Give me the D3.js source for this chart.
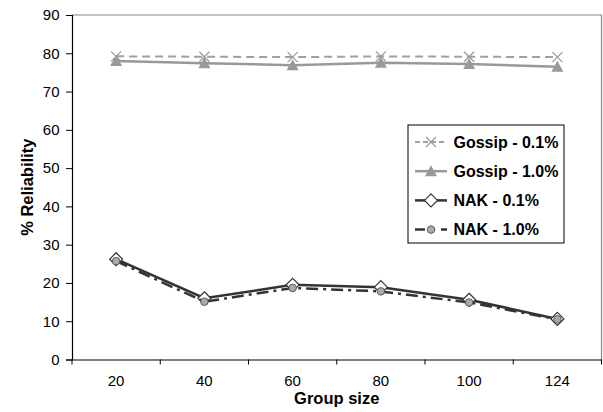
<!DOCTYPE html>
<html><head><meta charset="utf-8">
<script src="https://cdn.jsdelivr.net/npm/d3@7"></script>
<style>body{margin:0;background:#fff}svg{display:block}</style>
</head><body>
<script>
const categories = ["20","40","60","80","100","124"];
const gossip01 = [79.2, 79.1, 79.0, 79.2, 79.1, 79.0];
const gossip10 = [78.0, 77.4, 76.9, 77.5, 77.2, 76.5];
const nak01 = [26.2, 16.0, 19.5, 18.9, 15.6, 10.6];
const nak10 = [25.7, 15.1, 18.7, 17.8, 14.9, 10.5];
const yTicks = [0,10,20,30,40,50,60,70,80,90];
const seriesNames = ["Gossip - 0.1%","Gossip - 1.0%","NAK - 0.1%","NAK - 1.0%"];

const W=603,H=412;
const L=72,R=601.5,T=15,B=359.5;
const FONT="'Liberation Sans',Arial,sans-serif";
const svg=d3.select("body").append("svg").attr("width",W).attr("height",H)
  .style("font-family",FONT);
const x=d3.scaleBand().domain(categories).range([L,R]);
const y=d3.scaleLinear().domain([0,90]).range([B,T]);
const cx=c=>x(c)+x.bandwidth()/2;

// top and right border
svg.append("path").attr("d",`M${L},${T}H${R}V${B}`).attr("fill","none").attr("stroke","#888").attr("stroke-width",1.2);

// y axis
const ya=svg.append("g").attr("transform",`translate(${L},0)`)
  .call(d3.axisLeft(y).tickValues(yTicks).tickSize(6).tickPadding(6.5));
ya.select(".domain").attr("stroke","#000").attr("stroke-width",1.2);
ya.selectAll(".tick line").attr("stroke","#000");
ya.selectAll("text").attr("font-size",15).attr("fill","#000").attr("font-family",FONT);

// x axis
const xa=svg.append("g").attr("transform",`translate(0,${B})`)
  .call(d3.axisBottom(x).tickSize(0).tickPadding(16));
xa.select(".domain").attr("stroke","#000").attr("stroke-width",1.2);
xa.selectAll("text").attr("font-size",15).attr("fill","#000").attr("font-family",FONT);
const bounds=categories.map(c=>x(c)).concat([R]);
svg.append("g").selectAll("line").data(bounds).join("line")
  .attr("x1",d=>d).attr("x2",d=>d).attr("y1",B).attr("y2",B+5).attr("stroke","#000");

// titles
svg.append("text").attr("x",(L+R)/2).attr("y",404).attr("text-anchor","middle")
  .attr("font-weight","bold").attr("font-size",16.5).text("Group size");
svg.append("text").attr("transform",`translate(32.5,${(T+B)/2}) rotate(-90)`).attr("text-anchor","middle")
  .attr("font-weight","bold").attr("font-size",16.5).text("% Reliability");

const line=d3.line().x((d,i)=>cx(categories[i])).y(d=>y(d));
const styles=[
  {data:gossip01,stroke:"#a0a0a0",w:2,dash:"8,5",marker:"x"},
  {data:gossip10,stroke:"#999",w:2.5,dash:null,marker:"tri"},
  {data:nak01,stroke:"#333",w:2.5,dash:null,marker:"dia"},
  {data:nak10,stroke:"#333",w:2.5,dash:"12,5,3,5",marker:"circ"}
];
function drawMarker(g,type,px,py){
  if(type==="x"){
    g.append("path").attr("d",`M${px-5},${py-5}L${px+5},${py+5}M${px-5},${py+5}L${px+5},${py-5}`)
      .attr("stroke","#999").attr("stroke-width",1.2).attr("fill","none");
  } else if(type==="tri"){
    g.append("path").attr("d",`M${px},${py-6}L${px+6},${py+5}L${px-6},${py+5}Z`).attr("fill","#999");
  } else if(type==="dia"){
    g.append("path").attr("d",`M${px},${py-6.5}L${px+6.5},${py}L${px},${py+6.5}L${px-6.5},${py}Z`)
      .attr("fill","#fff").attr("stroke","#333").attr("stroke-width",1.2);
  } else {
    g.append("circle").attr("cx",px).attr("cy",py).attr("r",3.8).attr("fill","#aaa").attr("stroke","#444").attr("stroke-width",0.8);
  }
}
styles.forEach(s=>{
  const g=svg.append("g");
  g.append("path").attr("d",line(s.data)).attr("fill","none").attr("stroke",s.stroke)
    .attr("stroke-width",s.w).attr("stroke-dasharray",s.dash);
  s.data.forEach((v,i)=>drawMarker(g,s.marker,cx(categories[i]),y(v)));
});

// legend
const lg=svg.append("g");
lg.append("rect").attr("x",408).attr("y",125).attr("width",156).attr("height",118)
  .attr("fill","#fff").attr("stroke","#000").attr("stroke-width",1);
const legendDash=["5,3",null,null,"10,6,4,6"];
seriesNames.forEach((n,i)=>{
  const yy=142+i*29.2;
  const s=styles[i];
  lg.append("line").attr("x1",415).attr("x2",447).attr("y1",yy).attr("y2",yy)
    .attr("stroke",s.stroke).attr("stroke-width",s.w).attr("stroke-dasharray",legendDash[i]);
  drawMarker(lg,s.marker,431,yy);
  lg.append("text").attr("x",453.5).attr("y",yy+5.5).attr("font-weight","bold").attr("font-size",16).text(n);
});
</script>
</body></html>
